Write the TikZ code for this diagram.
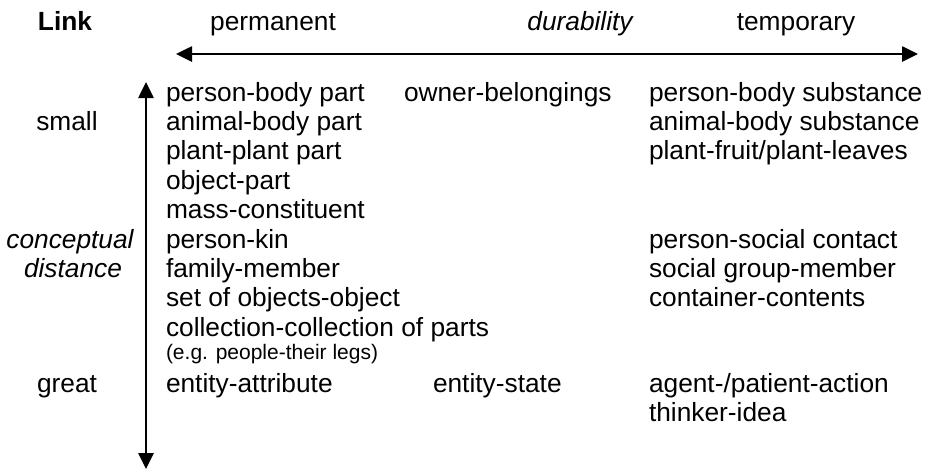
\documentclass[tikz,border=0pt]{standalone}
\usepackage{fontspec}
\setmainfont{Liberation Sans}
\usetikzlibrary{positioning,arrows.meta}

\begin{document}
\begin{tikzpicture}[x=1pt,y=-1pt,node distance=29.4pt,
  every node/.style={inner sep=0pt,outer sep=0pt,font=\fontsize{26.3}{30}\selectfont},
  item/.style={anchor=base west},
  label/.style={anchor=base},
  note/.style={anchor=base west,font=\fontsize{21}{24}\selectfont},
  axis/.style={{Triangle[length=16pt,width=15pt]}-{Triangle[length=16pt,width=15pt]},line width=2.6pt}]

\useasboundingbox (0,0) rectangle (927,475);
\coordinate (lab) at (67,0);
\coordinate (rcol) at (649,0);

% header
\node[label,font=\fontsize{26.3}{30}\selectfont\bfseries](link) at (65,30){Link};
\node[label](perm) at (273,30){permanent};
\node[label,font=\fontsize{26.3}{30}\selectfont\itshape](dur) at (580,30){durability};
\node[label](temp) at (796,30){temporary};

% permanent column
\node[item](l1) at (166,101){person-body part};
\node[item](l2)[below=of l1.base west,anchor=base west]{animal-body part};
\node[item](l3)[below=of l2.base west,anchor=base west]{plant-plant part};
\node[item](l4)[below=of l3.base west,anchor=base west]{object-part};
\node[item](l5)[below=of l4.base west,anchor=base west]{mass-constituent};
\node[item](l6)[below=of l5.base west,anchor=base west]{person-kin};
\node[item](l7)[below=of l6.base west,anchor=base west]{family-member};
\node[item](l8)[below=of l7.base west,anchor=base west]{set of objects-object};
\node[item](l9)[below=of l8.base west,anchor=base west]{collection-collection of parts};
\node[note](l10)[below=23pt of l9.base west,anchor=base west]{(e.g. people-their legs)};
\node[item](l11)[below=33pt of l10.base west,anchor=base west]{entity-attribute};

% middle
\node[item](m1) at (l1.base west -| 404,0){owner-belongings};
\node[item](m11) at (l11.base west -| 433,0){entity-state};

% temporary column
\node[item](r1) at (l1.base west -| rcol){person-body substance};
\node[item](r2) at (l2.base west -| rcol){animal-body substance};
\node[item](r3) at (l3.base west -| rcol){plant-fruit/plant-leaves};
\node[item](r6) at (l6.base west -| rcol){person-social contact};
\node[item](r7) at (l7.base west -| rcol){social group-member};
\node[item](r8) at (l8.base west -| rcol){container-contents};
\node[item](r11) at (l11.base west -| rcol){agent-/patient-action};
\node[item](r12)[below=of r11.base west,anchor=base west]{thinker-idea};

% distance labels
\node[label](small) at (l2.base west -| lab){small};
\node[label,font=\fontsize{26.3}{30}\selectfont\itshape](conc) at (l6.base west -| 70,0){conceptual};
\node[label,font=\fontsize{26.3}{30}\selectfont\itshape](dist) at (l7.base west -| 73,0){distance};
\node[label](great) at (l11.base west -| lab){great};

% axes
\coordinate (hl) at (176,54);
\coordinate (hr) at (918,54);
\coordinate (vt) at (146,82);
\coordinate (vb) at (146,469);
\draw[axis] (hl) -- (hr);
\draw[axis] (vt) -- (vb);

\end{tikzpicture}
\end{document}
